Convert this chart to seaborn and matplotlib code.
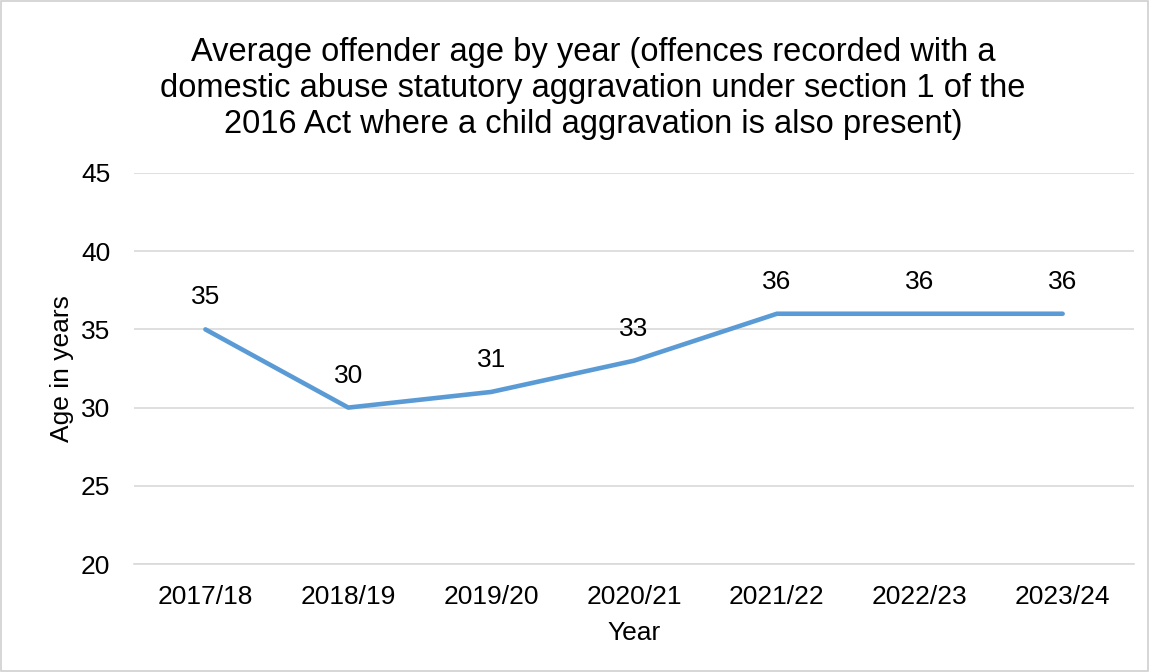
import matplotlib
matplotlib.use("Agg")
import matplotlib.pyplot as plt
import seaborn as sns
import pandas as pd

years = ["2017/18", "2018/19", "2019/20", "2020/21", "2021/22", "2022/23", "2023/24"]
avg_age = [35, 30, 31, 33, 36, 36, 36]
y_ticks = [20, 25, 30, 35, 40, 45]

title = ("Average offender age by year (offences recorded with a\n"
         "domestic abuse statutory aggravation under section 1 of the\n"
         "2016 Act where a child aggravation is also present)")

sns.set_theme(style="white")
plt.rcParams['font.family'] = ['Liberation Sans', 'DejaVu Sans']
plt.rcParams['text.color'] = 'black'
plt.rcParams['axes.labelcolor'] = 'black'

df = pd.DataFrame({"Year": years, "Age": avg_age})

fig = plt.figure(figsize=(11.49, 6.72), dpi=100)
ax = fig.add_axes([0.1166, 0.1607, 0.8704, 0.5819])

line_color = "#5B9BD5"
sns.lineplot(data=df, x="Year", y="Age", ax=ax, color=line_color,
             linewidth=3.3, sort=False)

ax.set_xlim(-0.5, len(years) - 0.5)
ax.set_ylim(20, 45)
ax.set_yticks(y_ticks)
ax.yaxis.grid(True, color="#D9D9D9", linewidth=1.2)
ax.set_axisbelow(True)
for s in ["top", "right", "left"]:
    ax.spines[s].set_visible(False)
ax.spines["bottom"].set_color("#D9D9D9")
ax.spines["bottom"].set_linewidth(1.2)

ax.tick_params(axis="both", labelsize=19, colors="black", length=0)
ax.tick_params(axis="x", pad=15)
ax.tick_params(axis="y", pad=17)
ax.set_xlabel("Year", fontsize=19, labelpad=9)
ax.set_ylabel("Age in years", fontsize=19, labelpad=5)

for i, v in enumerate(avg_age):
    ax.annotate(f"{v}", (i, v), xytext=(0, 23), textcoords="offset points",
                ha="center", va="center", fontsize=19)

fig.text(0.516, 0.868, title, ha="center", va="center", fontsize=23.5,
         linespacing=1.22)

border = plt.Rectangle((0.001, 0.001), 0.998, 0.998, transform=fig.transFigure,
                       fill=False, edgecolor="#D0D0D0", linewidth=1.2)
fig.patches.append(border)

fig.savefig("out.png", dpi=100, facecolor="white")
